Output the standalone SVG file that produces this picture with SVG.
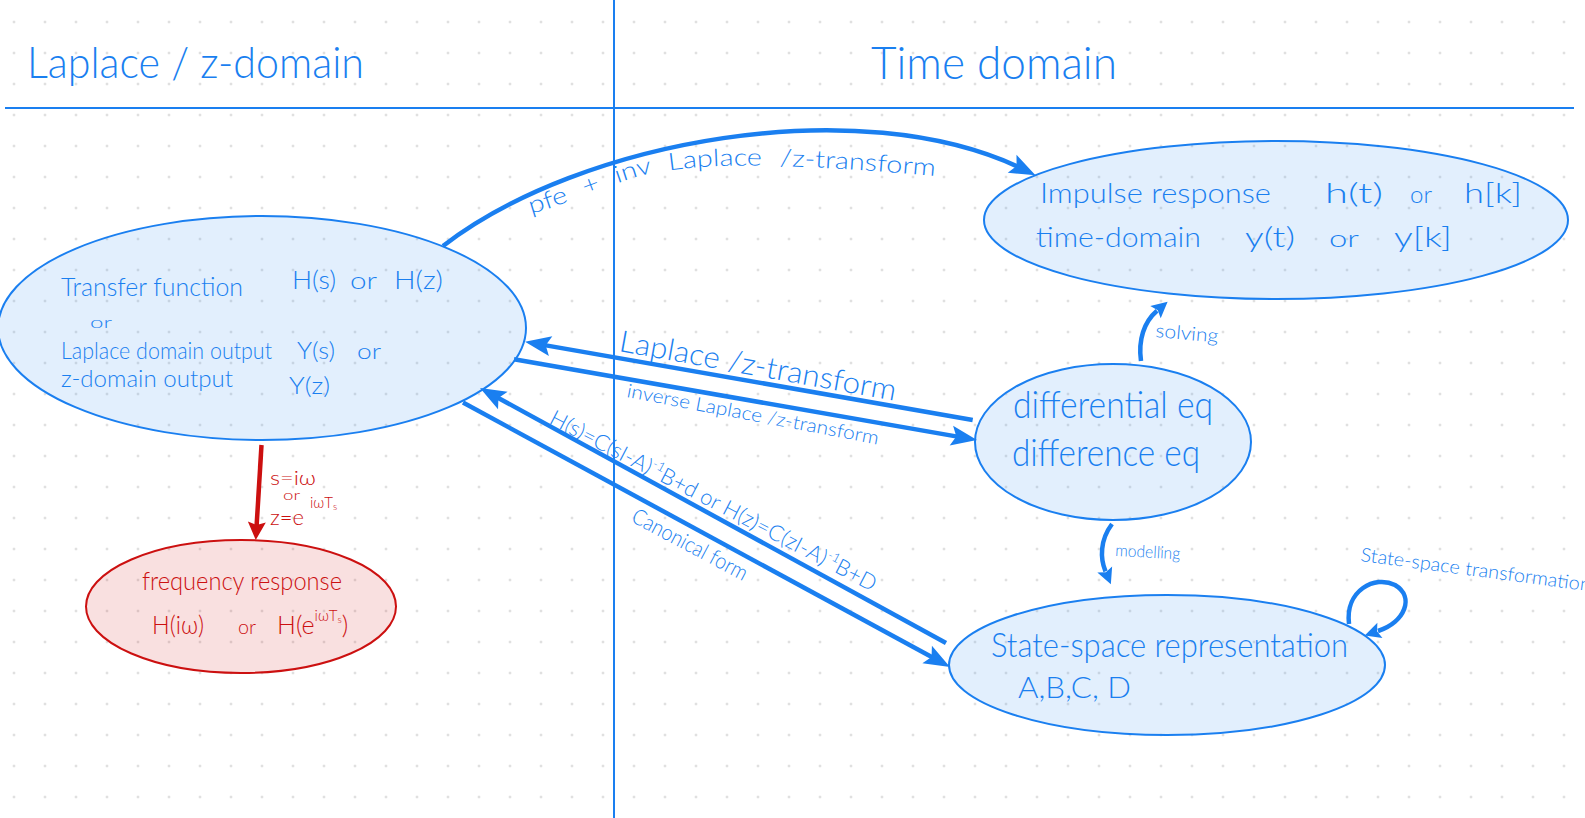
<svg xmlns="http://www.w3.org/2000/svg" width="1585" height="818" viewBox="0 0 1585 818">
<style>
.hw{font-family:Lato,'Open Sans','Liberation Sans',sans-serif;font-weight:300;fill:#1a7ff0}
.rd{fill:#cc1010}
.node{fill:#1a7ff0;fill-opacity:.125;stroke:#1a7ff0;stroke-width:2}
.rnode{fill:#cc0000;fill-opacity:.12;stroke:#cc1010;stroke-width:2}
.edge{fill:none;stroke:#1a7ff0;stroke-width:4.5}
.redge{fill:none;stroke:#cc1010;stroke-width:4.5}
.sec{stroke:#1a7ff0;stroke-width:2}
</style>
<defs>
<pattern id="dots" patternUnits="userSpaceOnUse" x="-1.5" y="6.5" width="31" height="31">
<circle cx="15.5" cy="15.5" r="1" fill="#bdbdbd"/>
</pattern>
<marker id="ah" markerUnits="userSpaceOnUse" viewBox="-2 -12 30 24" markerWidth="30" markerHeight="24" refX="12" refY="0" orient="auto">
<path d="M0,-10 L26,0 L0,10 L5,0 Z" fill="#1a7ff0"/>
</marker>
<marker id="ahs" markerUnits="userSpaceOnUse" viewBox="-2 -10 20 20" markerWidth="20" markerHeight="20" refX="2" refY="0" orient="auto">
<path d="M0,-8 L16,0 L0,8 L3,0 Z" fill="#1a7ff0"/>
</marker>
<marker id="ahr" markerUnits="userSpaceOnUse" viewBox="-2 -11 22 22" markerWidth="22" markerHeight="22" refX="4" refY="0" orient="auto">
<path d="M0,-9 L18,0 L0,9 L3,0 Z" fill="#cc1010"/>
</marker>
</defs>
<rect width="1585" height="818" fill="#ffffff"/>
<rect width="1585" height="818" fill="url(#dots)"/>
<g id="sections">
<line class="sec" x1="5" y1="108" x2="1574" y2="108"/>
<line class="sec" x1="614" y1="0" x2="614" y2="818"/>
</g>
<g id="titles">
<text class="hw" x="27" y="78" font-size="44" textLength="337" lengthAdjust="spacingAndGlyphs">Laplace / z-domain</text>
<text class="hw" x="871" y="79" font-size="46" textLength="246" lengthAdjust="spacingAndGlyphs">Time domain</text>
</g>
<g id="node-transfer">
<ellipse class="node" cx="262" cy="328" rx="264" ry="112"/>
<text class="hw" x="61" y="296" font-size="25" textLength="182" lengthAdjust="spacingAndGlyphs">Transfer function</text>
<text class="hw" x="292" y="289" font-size="25" textLength="44" lengthAdjust="spacingAndGlyphs">H(s)</text>
<text class="hw" x="350" y="289" font-size="23" textLength="27" lengthAdjust="spacingAndGlyphs">or</text>
<text class="hw" x="394" y="289" font-size="25" textLength="49" lengthAdjust="spacingAndGlyphs">H(z)</text>
<text class="hw" x="90" y="328" font-size="15" textLength="22" lengthAdjust="spacingAndGlyphs">or</text>
<text class="hw" x="61" y="359" font-size="24" textLength="211" lengthAdjust="spacingAndGlyphs">Laplace domain output</text>
<text class="hw" x="297" y="359" font-size="24" textLength="38" lengthAdjust="spacingAndGlyphs">Y(s)</text>
<text class="hw" x="357" y="359" font-size="21" textLength="24" lengthAdjust="spacingAndGlyphs">or</text>
<text class="hw" x="61" y="387" font-size="24" textLength="172" lengthAdjust="spacingAndGlyphs">z-domain output</text>
<text class="hw" x="289" y="394" font-size="24" textLength="41" lengthAdjust="spacingAndGlyphs">Y(z)</text>
</g>
<g id="node-impulse">
<ellipse class="node" cx="1276" cy="220" rx="292" ry="79"/>
<text class="hw" x="1040" y="203" font-size="28" textLength="231" lengthAdjust="spacingAndGlyphs">Impulse response</text>
<text class="hw" x="1325" y="203" font-size="28" textLength="58" lengthAdjust="spacingAndGlyphs">h(t)</text>
<text class="hw" x="1410" y="203" font-size="24" textLength="22" lengthAdjust="spacingAndGlyphs">or</text>
<text class="hw" x="1464" y="203" font-size="28" textLength="58" lengthAdjust="spacingAndGlyphs">h[k]</text>
<text class="hw" x="1036" y="247" font-size="28" textLength="165" lengthAdjust="spacingAndGlyphs">time-domain</text>
<text class="hw" x="1245" y="247" font-size="28" textLength="50" lengthAdjust="spacingAndGlyphs">y(t)</text>
<text class="hw" x="1329" y="247" font-size="24" textLength="30" lengthAdjust="spacingAndGlyphs">or</text>
<text class="hw" x="1394" y="247" font-size="28" textLength="58" lengthAdjust="spacingAndGlyphs">y[k]</text>
</g>
<g id="node-diffeq">
<ellipse class="node" cx="1113" cy="442" rx="138" ry="78"/>
<text class="hw" x="1013" y="418" font-size="37" textLength="200" lengthAdjust="spacingAndGlyphs">differential eq</text>
<text class="hw" x="1012" y="466" font-size="37" textLength="188" lengthAdjust="spacingAndGlyphs">difference eq</text>
</g>
<g id="node-statespace">
<ellipse class="node" cx="1167" cy="665" rx="218" ry="70"/>
<text class="hw" x="991" y="657" font-size="34" textLength="357" lengthAdjust="spacingAndGlyphs">State-space representation</text>
<text class="hw" x="1018" y="698" font-size="30" textLength="113" lengthAdjust="spacingAndGlyphs">A,B,C, D</text>
</g>
<g id="node-frequency">
<ellipse class="rnode" cx="241" cy="606.5" rx="155" ry="66.5"/>
<text class="hw rd" x="142" y="590" font-size="26" textLength="200" lengthAdjust="spacingAndGlyphs">frequency response</text>
<text class="hw rd" x="152" y="634" font-size="25" textLength="52" lengthAdjust="spacingAndGlyphs">H(iω)</text>
<text class="hw rd" x="238" y="634" font-size="20" textLength="18" lengthAdjust="spacingAndGlyphs">or</text>
<text class="hw rd" x="277" y="634" font-size="25">H(e<tspan dy="-13" font-size="15">iωT</tspan><tspan font-size="10" dy="2">s</tspan><tspan dy="11" font-size="25">)</tspan></text>
</g>
<g id="connectors">
<path class="edge" d="M443,246 C580,140 860,90 1022.9,169.1" marker-end="url(#ah)"/>
<path class="edge" d="M972.7,420 L538.8,344.1" marker-end="url(#ah)"/>
<path class="edge" d="M514,359.3 L963.2,437.6" marker-end="url(#ah)"/>
<path class="edge" d="M946,643 L492.3,394.7" marker-end="url(#ah)"/>
<path class="edge" d="M463,402.5 L937.7,660.3" marker-end="url(#ah)"/>
<path class="edge" d="M1141,361 C1138,340 1144,322 1157,310.8" marker-end="url(#ahs)"/>
<path class="edge" d="M1112,524 C1100,540 1100,558 1105.5,571.3" marker-end="url(#ahs)"/>
<path class="edge" d="M1349,624 C1345,590 1375,575 1395,585 C1415,597 1405,622 1378,631" marker-end="url(#ahs)"/>
<path class="redge" d="M261.5,445 L256.6,526" marker-end="url(#ahr)"/>
<path id="pfeLabelPath" d="M531,214 C570,203 605,186 640,176 C690,164 760,160 945,177" fill="none"/>
<text class="hw" font-size="24" word-spacing="8"><textPath href="#pfeLabelPath" textLength="412" lengthAdjust="spacingAndGlyphs">pfe + inv Laplace /z-transform</textPath></text>
<text class="hw" x="618" y="351" font-size="30" textLength="281" lengthAdjust="spacingAndGlyphs" transform="rotate(10.2 618 351)">Laplace /z-transform</text>
<text class="hw" x="626" y="397" font-size="19" textLength="256" lengthAdjust="spacingAndGlyphs" transform="rotate(10.7 626 397)">inverse Laplace /z-transform</text>
<text class="hw" x="548" y="423" font-size="22" transform="rotate(27.5 548 423)">H(s)=C(sI-A)<tspan dy="-9" font-size="13">-1</tspan><tspan dy="9">B+d or H(z)=C(zI-A)</tspan><tspan dy="-9" font-size="13">-1</tspan><tspan dy="9">B+D</tspan></text>
<text class="hw" x="630" y="521" font-size="22" textLength="128" lengthAdjust="spacingAndGlyphs" transform="rotate(28 630 521)">Canonical form</text>
<text class="hw" x="1155" y="337" font-size="19" textLength="63" lengthAdjust="spacingAndGlyphs" transform="rotate(5 1155 337)">solving</text>
<text class="hw" x="1115" y="556" font-size="17" textLength="65" lengthAdjust="spacingAndGlyphs" transform="rotate(3 1115 556)">modelling</text>
<text class="hw" x="1360" y="561" font-size="19" textLength="232" lengthAdjust="spacingAndGlyphs" transform="rotate(7.5 1360 561)">State-space transformation</text>
<text class="hw rd" x="270" y="485" font-size="19" textLength="46" lengthAdjust="spacingAndGlyphs">s=iω</text>
<text class="hw rd" x="283" y="500" font-size="14" textLength="17" lengthAdjust="spacingAndGlyphs">or</text>
<text class="hw rd" x="270" y="525" font-size="22">z=e<tspan dx="6" dy="-17" font-size="15">iωT</tspan><tspan font-size="10" dy="2">s</tspan></text>
</g>
</svg>
